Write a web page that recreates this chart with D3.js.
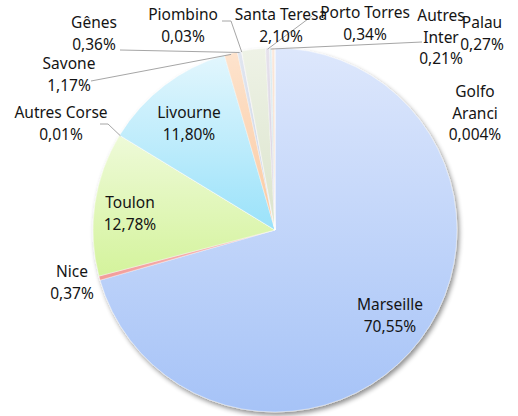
<!DOCTYPE html>
<meta charset="utf-8">
<style>
body { margin: 0; background: #fff; }
text { font-family: "Noto Sans", sans-serif; font-size: 15.5px; fill: #141414; }
.leader { fill: none; stroke: #a6a6a6; stroke-width: 1; }
.slice { stroke: #fff; stroke-width: 0.4; }
</style>
<svg width="518" height="416"></svg>
<script src="https://d3js.org/d3.v7.min.js"></script>
<script>
var ports = ["Marseille", "Nice", "Toulon", "Autres Corse", "Livourne", "Savone", "Gênes",
             "Piombino", "Santa Teresa", "Porto Torres", "Autres Inter", "Palau", "Golfo Aranci"];
var shares = [70.55, 0.37, 12.78, 0.01, 11.80, 1.17, 0.36, 0.03, 2.10, 0.34, 0.21, 0.27, 0.004];
var shareText = ["70,55%", "0,37%", "12,78%", "0,01%", "11,80%", "1,17%", "0,36%",
                 "0,03%", "2,10%", "0,34%", "0,21%", "0,27%", "0,004%"];
// how each label is broken into lines
var labelLines = [
  ["Marseille"], ["Nice"], ["Toulon"], ["Autres Corse"], ["Livourne"], ["Savone"], ["Gênes"],
  ["Piombino"], ["Santa Teresa"], ["Porto Torres"], ["Autres", "Inter"], ["Palau"], ["Golfo", "Aranci"]
];

// fill colours: top (light) and bottom (base)
var topColors = ["#dde7fc", "#f8bdbb", "#eefad8", "#d9cfe8", "#e2f6fd", "#fde3cd", "#e1e6f0",
                 "#ecdcdc", "#eef2e6", "#e6e2ec", "#e0eef2", "#fbe9dc", "#dde6f7"];
var baseColors = ["#a6c3f7", "#f29b98", "#d4f39c", "#b9a6d6", "#9ae2fa", "#fbc9a0", "#c9d2e6",
                  "#d9c3c3", "#dbe4cc", "#d2cadc", "#c8e1e8", "#f6d4b9", "#c9d7f2"];

// label anchor points (first line baseline centre) and leader line starts
var labelAt = [[390, 310], [72, 277], [130, 208], [61, 118], [189, 118], [69, 69], [94, 28],
               [183, 20], [281, 20], [365, 18], [441, 21], [482, 28], [475, 97]];
var leaderFrom = [null, null, null, [[100, 124], [108, 124]], null, [[91, 81]], [[120, 50]],
                  [[222, 21], [231, 21]], null, [[312, 16]], [[422, 42]], null, null];

var svg = d3.select("svg"),
    cx = 275, cy = 230, r = 182;

var defs = svg.append("defs");
var shadow = defs.append("filter").attr("id", "shadow")
    .attr("x", "-10%").attr("y", "-10%").attr("width", "130%").attr("height", "130%");
shadow.append("feGaussianBlur").attr("in", "SourceAlpha").attr("stdDeviation", 2.5);
shadow.append("feOffset").attr("dx", 2).attr("dy", 3).attr("result", "off");
shadow.append("feComponentTransfer").append("feFuncA").attr("type", "linear").attr("slope", 0.45);
var merge = shadow.append("feMerge");
merge.append("feMergeNode");
merge.append("feMergeNode").attr("in", "SourceGraphic");

ports.forEach(function(p, i) {
  var g = defs.append("linearGradient").attr("id", "grad" + i)
      .attr("x1", 0).attr("y1", 0).attr("x2", 0).attr("y2", 1);
  g.append("stop").attr("offset", "0%").attr("stop-color", topColors[i]);
  g.append("stop").attr("offset", "100%").attr("stop-color", baseColors[i]);
});

var data = ports.map(function(p, i) { return {name: p, value: shares[i], idx: i}; });

var pie = d3.pie().sort(null).value(function(d) { return d.value; });
var arcs = pie(data);
var arc = d3.arc().innerRadius(0).outerRadius(r);

var g = svg.append("g").attr("transform", "translate(" + cx + "," + cy + ")");

g.append("g").attr("filter", "url(#shadow)")
  .selectAll("path")
  .data(arcs)
  .enter().append("path")
    .attr("class", "slice")
    .attr("d", arc)
    .attr("fill", function(d) { return "url(#grad" + d.data.idx + ")"; });

// leader lines
arcs.forEach(function(d) {
  var from = leaderFrom[d.data.idx];
  if (!from) return;
  var a = (d.startAngle + d.endAngle) / 2;
  var end = [cx + Math.sin(a) * (r - 1), cy - Math.cos(a) * (r - 1)];
  var pts = from.concat([end]);
  svg.append("path").attr("class", "leader").attr("d", d3.line()(pts));
});

// labels
var lineH = 21.5;
arcs.forEach(function(d) {
  var i = d.data.idx;
  var lines = labelLines[i].concat([shareText[i]]);
  var t = svg.append("text")
      .attr("x", labelAt[i][0]).attr("y", labelAt[i][1])
      .attr("text-anchor", "middle");
  lines.forEach(function(s, k) {
    t.append("tspan").attr("x", labelAt[i][0]).attr("dy", k === 0 ? 0 : lineH).text(s);
  });
});
</script>
